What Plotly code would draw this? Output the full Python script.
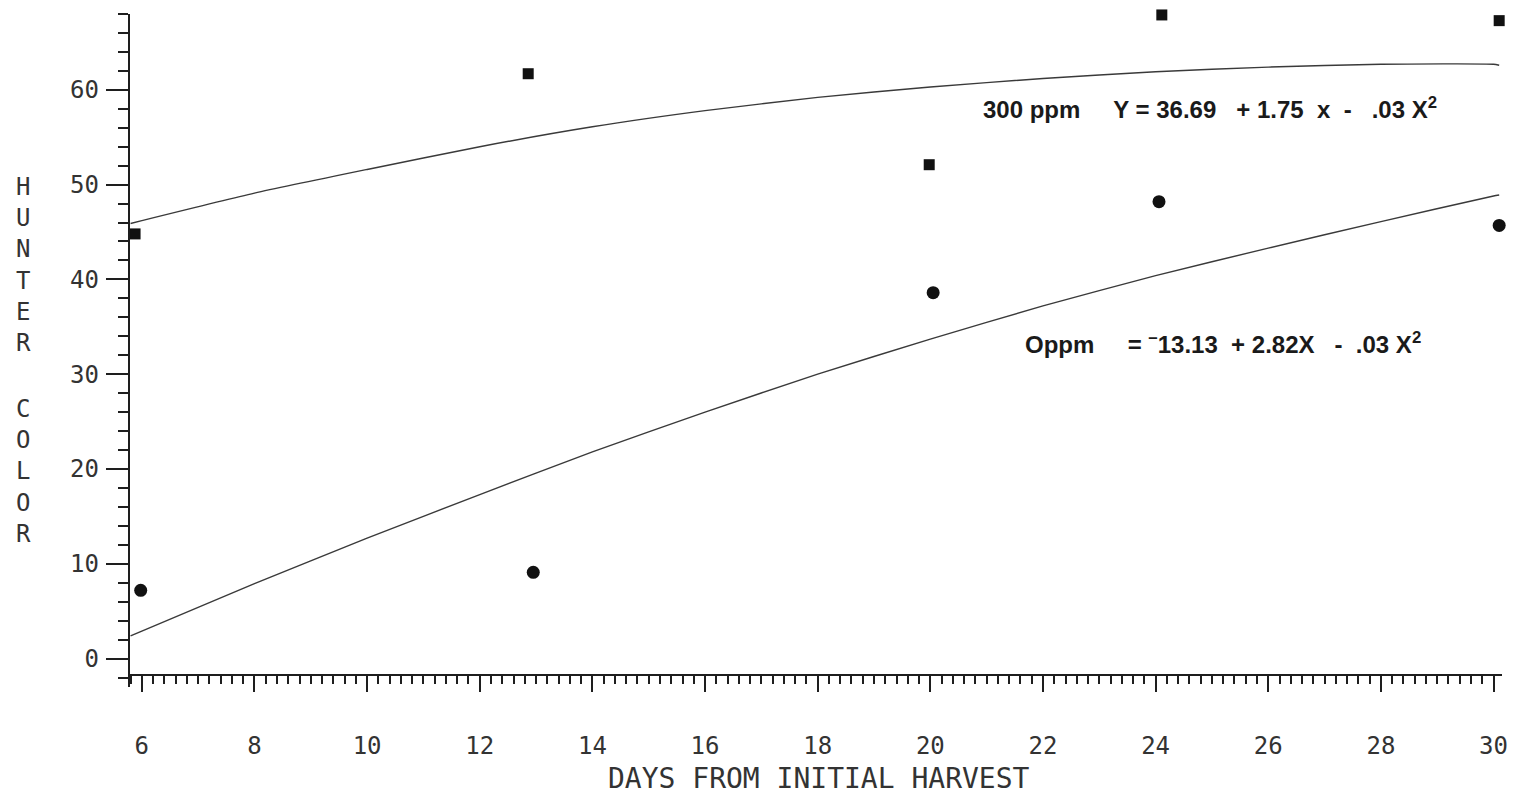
import plotly.graph_objects as go

# Observed Hunter color readings (squares: 300 ppm, circles: 0 ppm)
days_300 = [5.88, 12.86, 19.98, 24.11, 30.1]
color_300 = [44.8, 61.7, 52.1, 67.9, 67.3]
days_0 = [5.98, 12.95, 20.05, 24.06, 30.1]
color_0 = [7.2, 9.1, 38.6, 48.2, 45.7]

# Fitted regression curves, sampled along the day axis
curve_days = [5.8, 6, 8, 10, 12, 14, 16, 18, 20, 22, 24, 26, 28, 30, 30.1]
curve_300 = [45.9, 46.2, 49.1, 51.6, 54.0, 56.1, 57.8, 59.2, 60.3, 61.2, 61.9, 62.4, 62.7, 62.7, 62.6]
curve_0 = [2.4, 2.9, 7.9, 12.7, 17.3, 21.8, 26.0, 30.0, 33.7, 37.2, 40.4, 43.3, 46.1, 48.8, 48.9]

x_range = [5.79, 30.15]
y_range = [-3.0, 68.0]
x_axis_at = -1.7  # value on the y scale where the day axis is drawn

INK = "#1e1e1e"
LABEL = "#333333"
MONO = "DejaVu Sans Mono"
EQ_FONT = "Liberation Sans"

MARGIN_L, MARGIN_R, MARGIN_T, MARGIN_B = 130, 10, 14, 108
W, H = 1518, 795

fig = go.Figure()

for ys in (curve_300, curve_0):
    fig.add_trace(go.Scatter(x=curve_days, y=ys, mode="lines",
                             line=dict(color="#3a3a3a", width=1.4, shape="spline", smoothing=0.6),
                             hoverinfo="skip", showlegend=False))
fig.add_trace(go.Scatter(x=days_300, y=color_300, mode="markers", cliponaxis=False,
                         marker=dict(symbol="square", size=11, color="#111"),
                         name="300 ppm", showlegend=False))
fig.add_trace(go.Scatter(x=days_0, y=color_0, mode="markers", cliponaxis=False,
                         marker=dict(symbol="circle", size=13, color="#111"),
                         name="0 ppm", showlegend=False))

axis_pos = (x_axis_at - y_range[0]) / (y_range[1] - y_range[0])

fig.update_layout(
    width=W, height=H, autosize=False,
    margin=dict(l=MARGIN_L, r=MARGIN_R, t=MARGIN_T, b=MARGIN_B),
    paper_bgcolor="white", plot_bgcolor="white",
    font=dict(family=MONO, color=LABEL),
    xaxis=dict(
        range=x_range, anchor="free", position=axis_pos,
        showgrid=False, zeroline=False,
        showline=True, linecolor=INK, linewidth=2,
        tickmode="linear", tick0=0, dtick=2,
        ticks="outside", ticklen=16, tickwidth=2, tickcolor=INK,
        minor=dict(dtick=0.2, tick0=0, ticks="outside", ticklen=8,
                   tickwidth=1.6, tickcolor=INK, showgrid=False),
        tickfont=dict(family=MONO, size=24, color=LABEL),
        ticklabelstandoff=34,
    ),
    yaxis=dict(
        range=y_range,
        showgrid=False, zeroline=False,
        showline=True, linecolor=INK, linewidth=2.4,
        tickmode="linear", tick0=0, dtick=10,
        ticks="outside", ticklen=22, tickwidth=2, tickcolor=INK,
        minor=dict(dtick=2, tick0=0, ticks="outside", ticklen=10,
                   tickwidth=1.6, tickcolor=INK, showgrid=False),
        tickfont=dict(family=MONO, size=24, color=LABEL),
        ticklabelstandoff=2,
    ),
)


def px_x(px):
    return (px - MARGIN_L) / (W - MARGIN_L - MARGIN_R)


def px_y(py):
    return (H - MARGIN_B - py) / (H - MARGIN_B - MARGIN_T)


# Axis titles
fig.add_annotation(text="DAYS FROM INITIAL HARVEST", xref="paper", yref="paper",
                   x=px_x(822), y=px_y(778), xanchor="center", yanchor="middle",
                   showarrow=False, font=dict(family=MONO, size=28, color=LABEL))
fig.add_annotation(text="H<br>U<br>N<br>T<br>E<br>R", xref="paper", yref="paper",
                   x=px_x(23), y=px_y(265), xanchor="center", yanchor="middle",
                   showarrow=False, font=dict(family=MONO, size=24, color=LABEL))
fig.add_annotation(text="C<br>O<br>L<br>O<br>R", xref="paper", yref="paper",
                   x=px_x(23), y=px_y(471), xanchor="center", yanchor="middle",
                   showarrow=False, font=dict(family=MONO, size=24, color=LABEL))

# Regression equations
fig.add_annotation(text="<b>300 ppm     Y = 36.69   + 1.75  x  -   .03 X<sup>2</sup></b>",
                   xref="paper", yref="paper", x=px_x(985), y=px_y(108),
                   xanchor="left", yanchor="middle", showarrow=False,
                   font=dict(family=EQ_FONT, size=24, color="#1a1a1a"))
fig.add_annotation(text="<b>Oppm     = <sup>–</sup>13.13  + 2.82X   -  .03 X<sup>2</sup></b>",
                   xref="paper", yref="paper", x=px_x(1027), y=px_y(343),
                   xanchor="left", yanchor="middle", showarrow=False,
                   font=dict(family=EQ_FONT, size=24, color="#1a1a1a"))

fig.write_html("out.html")
